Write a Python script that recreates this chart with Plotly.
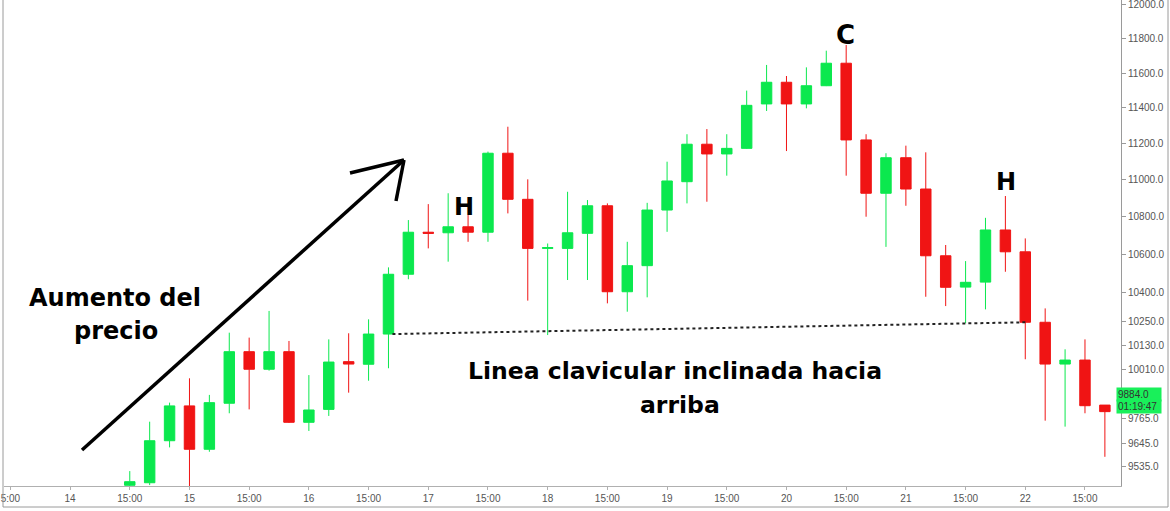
import plotly.graph_objects as go

# ---- data (4h candles, index = candle position; day 14 first candle = 0) ----
idx = list(range(3, 53))
opens = [9447, 9459, 9659, 9828, 9618, 9841, 10097, 10009, 10097, 9748,
         9811, 10047, 10034, 10186, 10494, 10716, 10713, 10745, 10716, 11146,
         10893, 10630, 10630, 10710, 10858, 10403, 10539, 10835, 10989, 11196,
         11142, 11173, 11423, 11547, 11423, 11527, 11657, 11220, 10926, 11121,
         10949, 10591, 10427, 10453, 10728, 10612, 10246, 10035, 10055, 9832]
highs = [9514, 9751, 9844, 9964, 9882, 10193, 10168, 10304, 10151, 9980,
         10159, 10190, 10261, 10530, 10781, 10867, 10926, 10808, 11155, 11294,
         11002, 10656, 10934, 10889, 10871, 10665, 10874, 11099, 11252, 11281,
         11252, 11499, 11647, 11583, 11633, 11730, 11763, 11252, 11146, 11188,
         11151, 10648, 10563, 10793, 10911, 10683, 10317, 10109, 10159, 9832]
lows = [9440, 9448, 9627, 9401, 9606, 9792, 9811, 10002, 9745, 9706,
        9779, 9893, 9952, 10014, 10468, 10630, 10560, 10665, 10665, 10817,
        10357, 10181, 10464, 10464, 10343, 10300, 10374, 10718, 10871, 10880,
        11022, 11170, 11383, 11158, 11398, 11525, 11022, 10799, 10638, 10858,
        10377, 10329, 10241, 10312, 10507, 10059, 9756, 9727, 9792, 9582]
closes = [9464, 9659, 9828, 9618, 9844, 10097, 10009, 10097, 9748, 9808,
          10045, 10035, 10186, 10494, 10716, 10710, 10745, 10716, 11146, 10893,
          10630, 10634, 10713, 10858, 10403, 10539, 10835, 10993, 11196, 11142,
          11173, 11415, 11547, 11423, 11527, 11657, 11220, 10926, 11121, 10949,
          10591, 10426, 10452, 10728, 10612, 10246, 10035, 10055, 9829, 9800]

x_tickvals = [-3, 0, 3, 6, 9, 12, 15, 18, 21, 24, 27, 30, 33, 36, 39, 42, 45, 48, 51]
x_ticktext = ["5:00", "14", "15:00", "15", "15:00", "16", "15:00", "17", "15:00", "18",
              "15:00", "19", "15:00", "20", "15:00", "21", "15:00", "22", "15:00"]
y_tickvals = [12000, 11800, 11600, 11400, 11200, 11000, 10800, 10600, 10400,
              10250, 10130, 10010, 9765, 9645, 9535]
y_ticktext = [f"{v:.1f}" for v in y_tickvals]

last_price = 9884.0
countdown = "01:19:47"

neckline_x = [16.2, 48.1]
neckline_y = [10186, 10246]

GREEN = "#0BE84E"
RED = "#F01414"

# ---- geometry helpers (pixel -> paper) ----
L_M, R_M, T_M, B_M = 4, 49, 0, 25
W, H = 1170, 511
PW, PH = W - L_M - R_M, H - T_M - B_M


def px(x):
    return (x - L_M) / PW


def py(y):
    return (H - B_M - y) / PH


fig = go.Figure()
fig.add_trace(go.Candlestick(
    x=idx, open=opens, high=highs, low=lows, close=closes,
    increasing=dict(line=dict(color=GREEN, width=1), fillcolor=GREEN),
    decreasing=dict(line=dict(color=RED, width=1), fillcolor=RED),
    whiskerwidth=0, showlegend=False, hoverinfo="skip",
))

# neckline (dotted)
fig.add_shape(type="line", xref="x", yref="y", x0=neckline_x[0], y0=neckline_y[0],
              x1=neckline_x[1], y1=neckline_y[1], line=dict(color="#222", width=2, dash="dot"))

# hand-drawn arrow
arrow_lines = [((82, 450), (404, 160)), ((404, 160), (350, 173)), ((404, 160), (396, 201))]
for (a, b) in arrow_lines:
    fig.add_shape(type="line", xref="paper", yref="paper",
                  x0=px(a[0]), y0=py(a[1]), x1=px(b[0]), y1=py(b[1]),
                  line=dict(color="black", width=3.5))

# frame lines
frame = [((3, 0), (3, 507)), ((3, 507), (1168, 507)), ((1168, 0), (1168, 507))]
for (a, b) in frame:
    fig.add_shape(type="line", xref="paper", yref="paper",
                  x0=px(a[0]), y0=py(a[1]), x1=px(b[0]), y1=py(b[1]),
                  line=dict(color="#9a9a9a", width=1))

BIG = dict(family="DejaVu Sans, sans-serif", size=22, color="black", weight="bold")


def txt(x, y, s, size=22):
    f = dict(BIG)
    f["size"] = size
    fig.add_annotation(xref="paper", yref="paper", x=px(x), y=py(y), text=s,
                       showarrow=False, font=f, xanchor="center", yanchor="middle")


txt(464, 207, "H", 24)
txt(1006, 182, "H", 24)
txt(845, 35, "C", 26)
txt(115, 298, "Aumento del", 24)
txt(116, 331, "precio", 24)
txt(675, 371, "Linea clavicular inclinada hacia", 23.5)
txt(680, 405, "arriba", 23.5)

# price tag
fig.add_annotation(xref="paper", yref="paper", x=px(1116), y=py(394), xanchor="left",
                   yanchor="middle", text=f"{last_price:.1f}", showarrow=False,
                   bgcolor="#19F05A", font=dict(family="Liberation Sans, Arial", size=10, color="#333"),
                   width=42, align="left", borderpad=1)
fig.add_annotation(xref="paper", yref="paper", x=px(1116), y=py(406), xanchor="left",
                   yanchor="middle", text=countdown, showarrow=False,
                   bgcolor="#19F05A", font=dict(family="Liberation Sans, Arial", size=10, color="#333"),
                   width=42, align="left", borderpad=1)

fig.update_layout(
    width=W, height=H,
    margin=dict(l=L_M, r=R_M, t=T_M, b=B_M),
    paper_bgcolor="white", plot_bgcolor="white",
    boxgap=0.25,
    xaxis=dict(range=[-3.32, 52.81], tickvals=x_tickvals, ticktext=x_ticktext,
               showgrid=False, zeroline=False, showline=True, linecolor="#b0b0b0",
               ticks="outside", ticklen=3, tickcolor="#b0b0b0",
               tickfont=dict(family="Liberation Sans, Arial", size=10, color="#555"),
               rangeslider=dict(visible=False), fixedrange=True),
    yaxis=dict(type="log", side="right", range=[3.97514, 4.08026],
               tickvals=y_tickvals, ticktext=y_ticktext, ticklabeloverflow="allow",
               showgrid=False, zeroline=False, showline=True, linecolor="#9a9a9a",
               ticks="outside", ticklen=4, tickcolor="#9a9a9a",
               tickfont=dict(family="Liberation Sans, Arial", size=10, color="#555")),
)

fig.write_html("out.html", config={"displayModeBar": False},
               post_script="document.body.style.margin='0';document.body.style.overflow='hidden';")
